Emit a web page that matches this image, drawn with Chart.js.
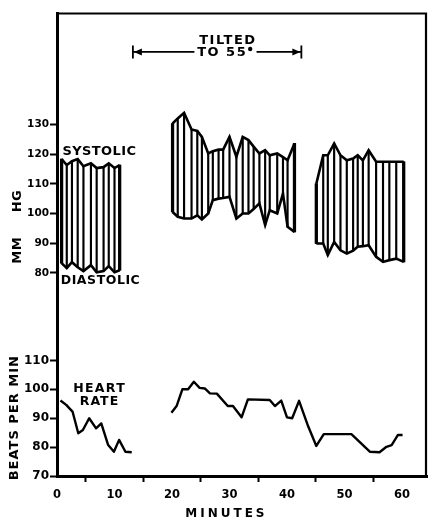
<!DOCTYPE html>
<html><head><meta charset="utf-8">
<script src="https://cdn.jsdelivr.net/npm/chart.js@4/dist/chart.umd.min.js"></script>
<style>html,body{margin:0;padding:0;background:#fff}#wrap{width:429px;height:519px;position:relative}</style>
</head><body><div id="wrap"><canvas id="c"></canvas></div>
<script>
// ---- data ----
const minuteTicks = [0, 10, 20, 30, 40, 50, 60];
const bpTicks = [80, 90, 100, 110, 120, 130];
const hrTicks = [70, 80, 90, 100, 110];

// blood pressure, supine (before tilt)
const restMinutes   = [0.8, 1.7, 2.6, 3.6, 4.6, 5.9, 6.9, 8.1, 9.0, 10.0, 10.9];
const restSystolic  = [118.3, 116.3, 117.6, 118.3, 115.9, 116.9, 115.3, 115.6, 116.9, 115.3, 116.3];
const restDiastolic = [83.3, 81.6, 83.6, 81.9, 80.6, 82.6, 80.2, 80.6, 82.3, 80.2, 80.9];

// blood pressure, tilted to 55 degrees
const tiltMinutes   = [20.1, 21.0, 22.1, 23.4, 24.4, 25.2, 26.3, 27.1, 28.1, 28.9, 30.0, 31.2, 32.3, 33.3, 34.2, 35.2, 36.2, 37.0, 38.3, 39.3, 40.1, 41.3];
const tiltSystolic  = [130.3, 132.0, 133.9, 128.3, 127.8, 125.8, 120.2, 121.0, 121.5, 121.5, 125.8, 119.1, 125.8, 124.7, 122.5, 120.2, 121.3, 119.6, 120.2, 119.0, 117.9, 123.6];
const tiltDiastolic = [100.5, 98.9, 98.3, 98.3, 99.4, 98.0, 100.0, 104.5, 105.0, 105.2, 105.6, 98.3, 100.0, 100.0, 101.5, 103.4, 96.1, 101.1, 100.0, 106.7, 95.5, 93.8];

// blood pressure, after tilt
const recoveryMinutes   = [45.1, 46.3, 47.1, 48.2, 49.3, 50.4, 51.5, 52.3, 53.2, 54.2, 55.5, 56.7, 57.8, 59.0, 60.3];
const recoverySystolic  = [110.0, 119.6, 119.6, 123.6, 119.6, 117.9, 118.5, 119.6, 117.9, 121.3, 117.4, 117.4, 117.4, 117.4, 117.4];
const recoveryDiastolic = [89.9, 89.9, 86.0, 90.4, 87.6, 86.5, 87.5, 88.8, 89.0, 89.3, 85.4, 83.7, 84.3, 84.8, 83.7];

// heart rate
const hrRestMinutes = [0.6, 1.6, 2.7, 3.7, 4.5, 5.6, 6.8, 7.7, 8.9, 9.9, 10.8, 11.9, 13.0];
const hrRest        = [96.1, 94.6, 92.3, 84.8, 85.9, 90.0, 86.5, 88.2, 80.7, 78.4, 82.5, 78.4, 78.2];
const hrLaterMinutes = [19.9, 20.8, 21.8, 22.8, 23.8, 24.8, 25.7, 26.6, 27.8, 29.7, 30.6, 32.1, 33.2, 37.0, 37.9, 39.0, 40.0, 40.9, 42.1, 43.7, 45.1, 46.4, 51.2, 54.4, 56.1, 57.3, 58.2, 59.3, 60.1];
const hrLater        = [91.9, 94.2, 100.0, 100.0, 102.6, 100.5, 100.3, 98.6, 98.5, 94.2, 94.2, 90.3, 96.5, 96.3, 94.2, 96.1, 90.3, 90.0, 96.0, 87.1, 80.4, 84.5, 84.5, 78.4, 78.2, 80.1, 80.7, 84.2, 84.2];

const tiltStart = 13.2, tiltEnd = 42.5;

// ---- build datasets ----
const phases = [
  [restMinutes, restSystolic, restDiastolic],
  [tiltMinutes, tiltSystolic, tiltDiastolic],
  [recoveryMinutes, recoverySystolic, recoveryDiastolic]
];
const pts = (xs, ys) => xs.map((x, i) => ({x, y: ys[i]}));
const lineBase = {type: 'line', borderColor: '#000', borderWidth: 2.6, pointRadius: 0, fill: false, tension: 0, borderJoinStyle: 'miter', spanGaps: false};

const datasets = [];
const hatch = [], edges = [];
phases.forEach(([m, s, d]) => {
  datasets.push(Object.assign({}, lineBase, {data: pts(m, s), yAxisID: 'yBP'}));
  datasets.push(Object.assign({}, lineBase, {data: pts(m, d), yAxisID: 'yBP'}));
  m.forEach((x, i) => hatch.push({x, y: [d[i], s[i]]}));
  [0, m.length - 1].forEach(i => edges.push({x: m[i], y: [d[i], s[i]]}));
});
const barBase = {type: 'bar', backgroundColor: '#000', borderWidth: 0, grouped: false, yAxisID: 'yBP', barPercentage: 1, categoryPercentage: 1};
datasets.push(Object.assign({}, barBase, {data: hatch, maxBarThickness: 1.5}));
datasets.push(Object.assign({}, barBase, {data: edges, maxBarThickness: 2.6}));
datasets.push(Object.assign({}, lineBase, {data: pts(hrRestMinutes, hrRest), yAxisID: 'yHR', borderWidth: 2.4, borderJoinStyle: 'round'}));
datasets.push(Object.assign({}, lineBase, {data: pts(hrLaterMinutes, hrLater), yAxisID: 'yHR', borderWidth: 2.4, borderJoinStyle: 'round'}));

// ---- helpers ----
const FAM = '"DejaVu Sans", sans-serif';
function label(ctx, s, x, y, size, spacing, align, rot) {
  ctx.save();
  ctx.translate(x, y);
  if (rot) ctx.rotate(rot);
  ctx.font = 'bold ' + size + 'px ' + FAM;
  ctx.letterSpacing = spacing + 'px';
  ctx.textAlign = align || 'center';
  ctx.textBaseline = 'middle';
  ctx.fillStyle = '#000';
  ctx.fillText(s, (align === 'left') ? 0 : spacing / 2, 0);
  ctx.restore();
}

const annotations = {
  id: 'annotations',
  afterDraw(chart) {
    const ctx = chart.ctx, a = chart.chartArea;
    const X = chart.scales.x, B = chart.scales.yBP, H = chart.scales.yHR;
    // frame top & right
    ctx.save();
    ctx.strokeStyle = '#000';
    ctx.lineWidth = 2.2;
    ctx.beginPath();
    ctx.moveTo(a.left, a.top + 0.5);
    ctx.lineTo(a.right - 1, a.top + 0.5);
    ctx.lineTo(a.right - 1, a.bottom);
    ctx.stroke();
    ctx.restore();

    label(ctx, 'SYSTOLIC', X.getPixelForValue(0.95), B.getPixelForValue(120.8), 13, 0.4, 'left');
    label(ctx, 'DIASTOLIC', X.getPixelForValue(0.65), B.getPixelForValue(77.2), 12.5, 0.55, 'left');
    label(ctx, 'HEART', X.getPixelForValue(7.3), H.getPixelForValue(100.1), 12.5, 1.3);
    label(ctx, 'RATE', X.getPixelForValue(7.3), H.getPixelForValue(95.8), 12.5, 1.0);

    // axis titles
    label(ctx, 'MM', a.left - 39, B.getPixelForValue(87.5), 13, 0.5, 'center', -Math.PI / 2);
    label(ctx, 'HG', a.left - 39, B.getPixelForValue(104.1), 13, 0.5, 'center', -Math.PI / 2);
    label(ctx, 'BEATS PER MIN', a.left - 42, H.getPixelForValue(90), 13, 1, 'center', -Math.PI / 2);
    label(ctx, 'MINUTES', X.getPixelForValue(29.2), X.top + 38, 12, 3);

    // tilt arrow
    const y = B.getPixelForValue(154.4);
    const x1 = X.getPixelForValue(tiltStart), x2 = X.getPixelForValue(tiltEnd);
    const g1 = X.getPixelForValue(23.9), g2 = X.getPixelForValue(34.7);
    ctx.save();
    ctx.strokeStyle = '#000'; ctx.fillStyle = '#000';
    ctx.lineWidth = 1.8;
    ctx.beginPath();
    ctx.moveTo(x1, y); ctx.lineTo(g1, y);
    ctx.moveTo(g2, y); ctx.lineTo(x2, y);
    ctx.moveTo(x1, y - 6.5); ctx.lineTo(x1, y + 6.5);
    ctx.moveTo(x2, y - 6.5); ctx.lineTo(x2, y + 6.5);
    ctx.stroke();
    ctx.beginPath();
    ctx.moveTo(x1 + 1, y); ctx.lineTo(x1 + 9, y - 3.5); ctx.lineTo(x1 + 9, y + 3.5); ctx.closePath();
    ctx.moveTo(x2 - 1, y); ctx.lineTo(x2 - 9, y - 3.5); ctx.lineTo(x2 - 9, y + 3.5); ctx.closePath();
    ctx.fill();
    ctx.restore();
    label(ctx, 'TILTED', X.getPixelForValue(29.6), B.getPixelForValue(158.3), 13, 1.5);
    label(ctx, 'TO 55', X.getPixelForValue(28.6), B.getPixelForValue(154.2), 13, 1.5, 'center');
    ctx.save();
    ctx.beginPath();
    ctx.arc(X.getPixelForValue(33.6), B.getPixelForValue(155.4), 2.2, 0, Math.PI * 2);
    ctx.fillStyle = '#000';
    ctx.fill();
    ctx.restore();
  }
};

const tickFont = size => ({family: FAM, weight: 'bold', size});

new Chart(document.getElementById('c'), {
  type: 'line',
  data: {datasets},
  options: {
    responsive: true,
    maintainAspectRatio: false,
    animation: false,
    events: [],
    layout: {padding: {top: 13, right: 2, left: 0, bottom: 0}},
    plugins: {legend: {display: false}, tooltip: {enabled: false}},
    scales: {
      x: {
        type: 'linear', position: 'bottom', min: 0, max: 64.35, offset: false,
        afterBuildTicks: s => { s.ticks = minuteTicks.map(v => ({value: v})); },
        afterFit: s => { s.height = 43; },
        grid: {drawOnChartArea: false, tickLength: 6, tickWidth: 2, tickColor: '#000'},
        border: {color: '#000', width: 3},
        ticks: {color: '#000', font: tickFont(11.5), padding: 6, maxRotation: 0}
      },
      yHR: {
        type: 'linear', position: 'left', stack: 'v', stackWeight: 173.4,
        min: 70, max: 130,
        afterBuildTicks: s => { s.ticks = hrTicks.map(v => ({value: v})); },
        afterFit: s => { s.width = 57; },
        grid: {drawOnChartArea: false, tickLength: 7, tickWidth: 2, tickColor: '#000'},
        border: {color: '#000', width: 3},
        ticks: {color: '#000', font: tickFont(12), padding: 1}
      },
      yBP: {
        type: 'linear', position: 'left', stack: 'v', stackWeight: 289.6,
        min: 70, max: 167.5,
        afterBuildTicks: s => { s.ticks = bpTicks.map(v => ({value: v})); },
        afterFit: s => { s.width = 57; },
        grid: {drawOnChartArea: false, tickLength: 7, tickWidth: 2, tickColor: '#000'},
        border: {color: '#000', width: 3},
        ticks: {color: '#000', font: tickFont(10.5), padding: 1}
      }
    }
  },
  plugins: [annotations]
});
</script>
</body></html>
